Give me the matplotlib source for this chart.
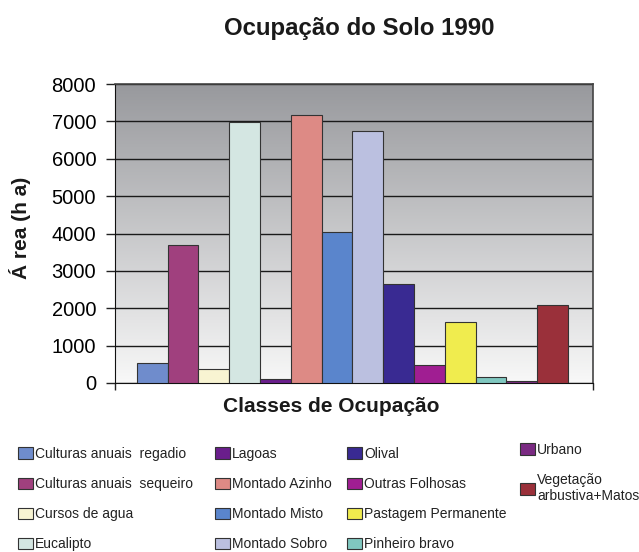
import numpy as np
import matplotlib
matplotlib.use('Agg')
import matplotlib.pyplot as plt
from matplotlib.colors import LinearSegmentedColormap

plt.rcParams['font.family'] = ['Liberation Sans', 'DejaVu Sans']

# --- data ---
classes = ['Culturas anuais  regadio', 'Culturas anuais  sequeiro', 'Cursos de agua',
           'Eucalipto', 'Lagoas', 'Montado Azinho', 'Montado Misto', 'Montado Sobro',
           'Olival', 'Outras Folhosas', 'Pastagem Permanente', 'Pinheiro bravo',
           'Urbano', 'Vegetação\narbustiva+Matos']
area = [530, 3680, 370, 6990, 100, 7170, 4050, 6750, 2660, 470, 1640, 150, 50, 2100]
colors = ['#6f8ccc', '#a0407e', '#f8f4d2', '#d4e6e2', '#6a1e8c', '#dd8a85', '#5a85cc',
          '#bbc0e0', '#392a92', '#a01e92', '#f0ec4e', '#80c8c0', '#7a2a82', '#9a303a']
yticks = [0, 1000, 2000, 3000, 4000, 5000, 6000, 7000, 8000]

W, H = 639, 552
fig = plt.figure(figsize=(W / 100, H / 100), dpi=100)
ax = fig.add_axes([115 / W, 1 - 383 / H, (593 - 115) / W, (383 - 84) / H])

x = np.arange(len(area))
xmin, xmax = -1.21, 14.31

# gradient background
grad = LinearSegmentedColormap.from_list('bg', ['#f8f8f8', '#98999d'])
ax.imshow(np.linspace(0, 1, 256).reshape(-1, 1), cmap=grad, origin='lower',
          extent=[xmin, xmax, 0, 8000], aspect='auto', zorder=0)

bars = ax.bar(x, area, width=1.0, color=colors, edgecolor='#333333', linewidth=0.8, zorder=3)

ax.set_xlim(xmin, xmax)
ax.set_ylim(0, 8000)
ax.set_yticks(yticks)
ax.set_yticklabels([str(v) for v in yticks], fontsize=14.5)
ax.yaxis.grid(True, color='#1a1a1a', linewidth=1.0, zorder=1)
ax.set_axisbelow(True)
ax.tick_params(axis='y', direction='out', length=6.5, width=1, color='#222222', pad=7)
ax.set_xticks([xmin, xmax])
ax.set_xticklabels(['', ''])
ax.tick_params(axis='x', direction='out', length=5, width=1, color='#222222')
for s in ['left', 'bottom']:
    ax.spines[s].set_color('#111111')
for s in ['top', 'right']:
    ax.spines[s].set_color('#444444')
    ax.spines[s].set_linewidth(1.2)

fig.text(359 / W, 1 - 29 / H, 'Ocupação do Solo 1990', ha='center', va='center',
         fontsize=17.3, fontweight='bold', color='#1a1a1a')
fig.text(331 / W, 1 - 407 / H, 'Classes de Ocupação', ha='center', va='center',
         fontsize=15, fontweight='bold', color='#1a1a1a')
fig.text(20 / W, 1 - 228 / H, 'Á rea (h a)', ha='center', va='center', rotation=90,
         fontsize=15, fontweight='bold', color='#1a1a1a')

# legend, four columns
cols = [(0, 4, 18, 447), (4, 8, 215, 447), (8, 12, 347, 447), (12, 14, 520, 443)]
for i0, i1, xp, top in cols:
    leg = fig.legend(bars[i0:i1], classes[i0:i1], loc='upper left',
                     bbox_to_anchor=(xp / W, 1 - top / H), frameon=False,
                     fontsize=10, handlelength=1.1, handleheight=0.9,
                     handletextpad=0.15, labelspacing=1.16, borderpad=0,
                     borderaxespad=0)
    for t in leg.get_texts():
        t.set_color('#222222')

fig.savefig('out.png', dpi=100)
